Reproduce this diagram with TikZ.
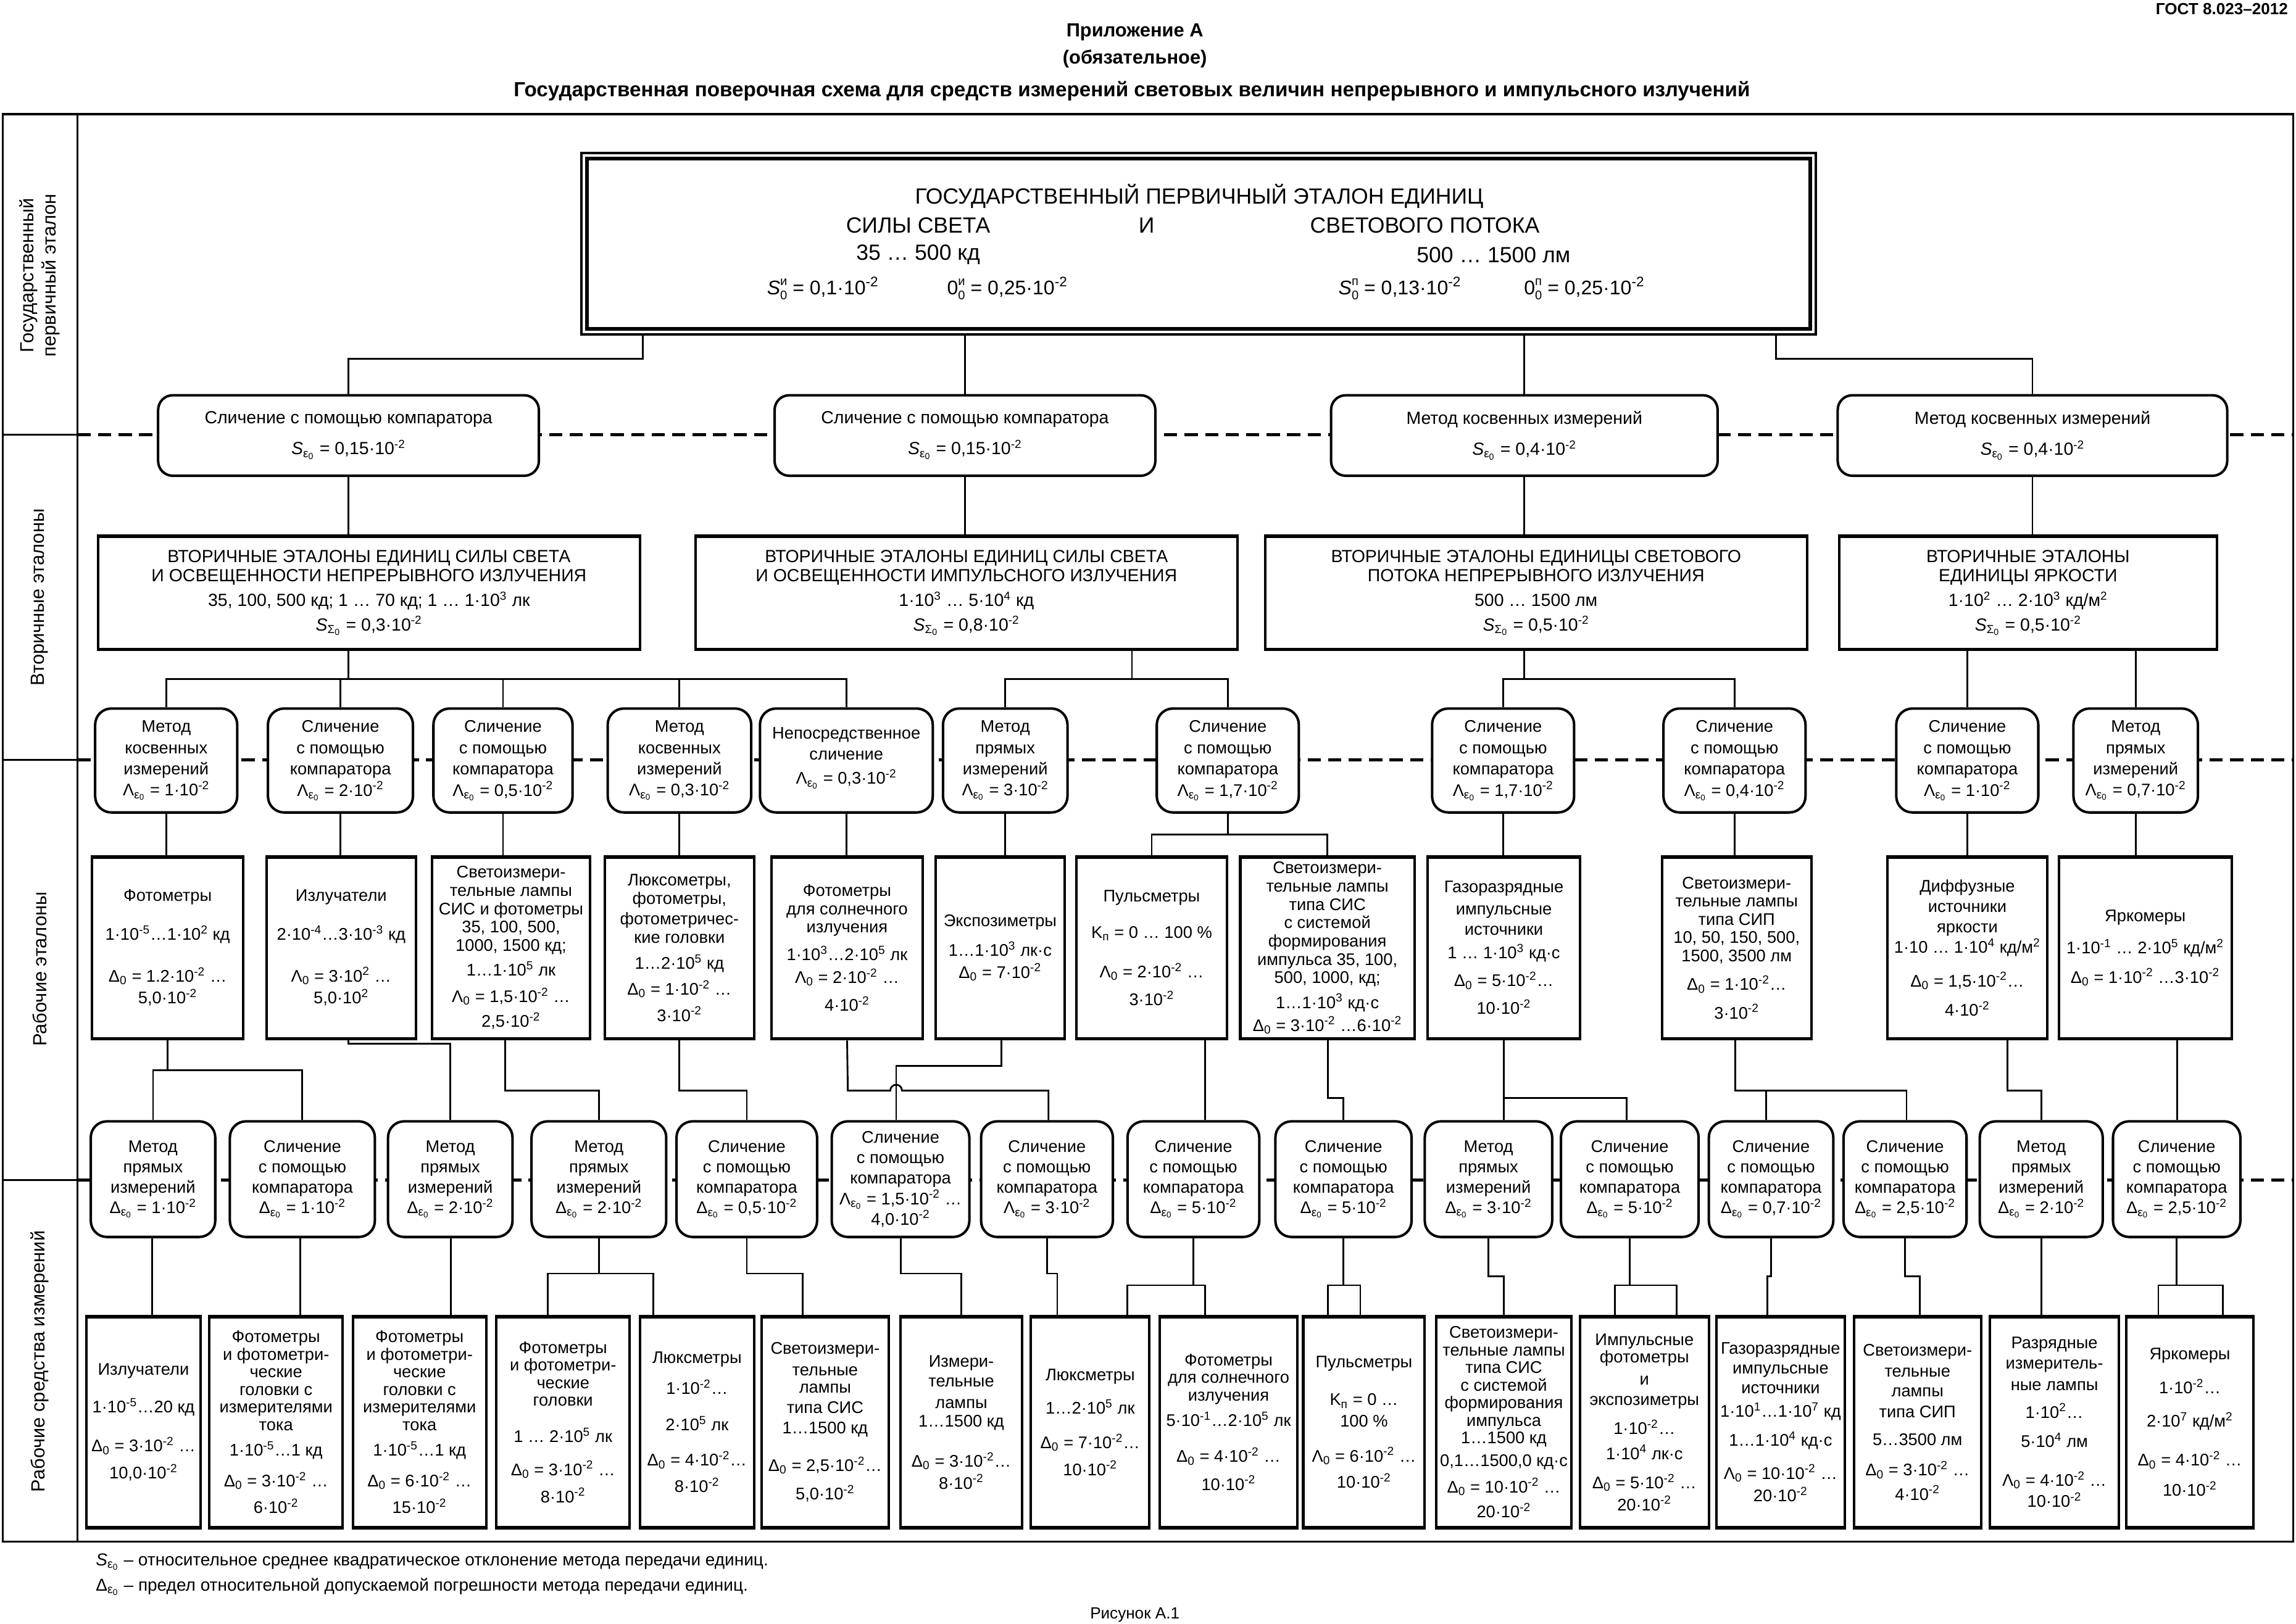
\documentclass[tikz,border=0pt]{standalone}
\usepackage{fontspec}
\setmainfont{Liberation Sans}
\usetikzlibrary{calc}
\newcommand{\fsz}[2]{\fontsize{#1}{#2}\selectfont\lineskiplimit=-1000pt\lineskip=0pt}
\newcommand{\mysup}[1]{\textsuperscript{#1}}
\newcommand{\mysub}[1]{\textsubscript{#1}}
\newcommand{\TE}[1]{10\mysup{#1}}
\newcommand{\mDe}{Δ\mysub{ε\mysub{0}}}
\newcommand{\mLa}{Λ\mysub{ε\mysub{0}}}
\newcommand{\mSe}{\textit{S}\mysub{ε\mysub{0}}}
\newcommand{\mSs}{\textit{S}\mysub{Σ\mysub{0}}}
\newcommand{\mDz}{Δ\mysub{0}}
\newcommand{\mLz}{Λ\mysub{0}}
\newcommand{\supsub}[2]{\rlap{\raisebox{6pt}{\fsz{8.5}{9}#1}}\raisebox{-3.5pt}{\fsz{8.5}{9}#2}}
\newcommand{\bx}[7]{\node[#1, minimum width={#4-#3}, minimum height={#6-#5}] (#2) at ({(#3+#4)/2},{(#5+#6)/2}) {#7};}
\begin{document}
\begin{tikzpicture}[x=1pt,y=-1pt,
 conn/.style={line width=1.2pt},
 dashln/.style={line width=2pt, dash pattern=on 9pt off 5pt},
 frm/.style={line width=1.4pt},
 thickedges/.style={path picture={\draw[line width=3.2pt] (path picture bounding box.south west) -- (path picture bounding box.south east) (path picture bounding box.north west) -- (path picture bounding box.north east);}},
 cbox/.style={draw, fill=white, rounded corners=10pt, line width=1.7pt, align=center, inner sep=0pt, font=\fsz{12}{21}},
 sbox/.style={draw, fill=white, line width=1.7pt, align=center, inner sep=0pt, font=\fsz{12}{13}, thickedges},
 mbox/.style={draw, fill=white, rounded corners=11pt, line width=1.7pt, align=center, inner sep=0pt, font=\fsz{11.5}{14.5}},
 wbox/.style={draw, fill=white, line width=1.7pt, align=center, inner sep=0pt, font=\fsz{11.5}{12.5}, thickedges},
 bbox/.style={draw, fill=white, line width=1.7pt, align=center, inner sep=0pt, font=\fsz{11.5}{12}, thickedges},
 lbox/.style={draw, fill=white, rounded corners=11pt, line width=1.7pt, align=center, inner sep=0pt, font=\fsz{11.5}{14}},
 sidelbl/.style={rotate=90, align=center, font=\fsz{13}{15}},
 hdr/.style={font=\bfseries\fsz{13}{15}},
 ptxt/.style={font=\fsz{15}{17}},
 pform/.style={font=\fsz{13.5}{15}},
 foot/.style={anchor=west, font=\fsz{11.8}{13}},
]
\useasboundingbox (0,0) rectangle (1568,1109);
\fill[white] (0,0) rectangle (1568,1109);
% header
\node[font=\bfseries\fsz{11}{13}, anchor=east] (gost) at (1566,6) {ГОСТ 8.023–2012};
\node[hdr] (app) at (775,22) {Приложение А};
\node[hdr] (oblig) at (775,40) {(обязательное)};
\node[font=\bfseries\fsz{14}{16}] (title) at (773,62) {Государственная поверочная схема для средств измерений световых величин непрерывного и импульсного излучений};
% frame
\draw[frm] (2,78) rectangle (1566,1053);
\draw[frm] (53,78) -- (53,1053);
\draw[frm] (2,297) -- (53,297) (2,519) -- (53,519) (2,806) -- (53,806);
\draw[dashln] (53,297) -- (1566,297);
\draw[dashln] (53,519) -- (1566,519);
\draw[dashln] (53,806) -- (1566,806);
\node[sidelbl] (lab1) at (27,188) {Государственный\\первичный эталон};
\node[sidelbl] (lab2) at (27,408) {Вторичные эталоны};
\node[sidelbl] (lab3) at (27,662) {Рабочие эталоны};
\node[sidelbl] (lab4) at (27,930) {Рабочие средства измерений};
% primary standard
\node[draw, fill=white, line width=1.4pt, minimum width=843, minimum height=124, inner sep=0pt] (P) at (818.5,166.5) {};
\draw[line width=2.6pt] ($(P.north west)+(4.5,4.5)$) rectangle ($(P.south east)+(-4.5,-4.5)$);
\node[ptxt] (t1) at (819,134) {ГОСУДАРСТВЕННЫЙ ПЕРВИЧНЫЙ ЭТАЛОН ЕДИНИЦ};
\node[ptxt] (t2) at (627,154) {СИЛЫ СВЕТА};
\node[ptxt] (t3) at (783,154) {И};
\node[ptxt] (t4) at (973,154) {СВЕТОВОГО ПОТОКА};
\node[ptxt] (t5) at (627,174) {35 … 500 кд};
\node[ptxt] (t6) at (1020,174) {500 … 1500 лм};
\node[pform] (t7) at (562,197) {\textit{S}\supsub{и}{0} = 0,1·\TE{-2}};
\node[pform] (t8) at (688,197) {0\supsub{и}{0} = 0,25·\TE{-2}};
\node[pform] (t9) at (956,197) {\textit{S}\supsub{п}{0} = 0,13·\TE{-2}};
\node[pform] (t10) at (1082,197) {0\supsub{п}{0} = 0,25·\TE{-2}};
% comparison row
\bx{cbox}{C1}{108}{368}{270}{325}{Сличение с помощью компаратора\\\mSe{} = 0,15·\TE{-2}}
\bx{cbox}{C2}{529}{789}{270}{325}{Сличение с помощью компаратора\\\mSe{} = 0,15·\TE{-2}}
\bx{cbox}{C3}{909}{1173}{270}{325}{Метод косвенных измерений\\\mSe{} = 0,4·\TE{-2}}
\bx{cbox}{C4}{1255}{1521}{270}{325}{Метод косвенных измерений\\\mSe{} = 0,4·\TE{-2}}
% secondary standards
\bx{sbox}{S1}{67}{437}{366}{444}{ВТОРИЧНЫЕ ЭТАЛОНЫ ЕДИНИЦ СИЛЫ СВЕТА\\И ОСВЕЩЕННОСТИ НЕПРЕРЫВНОГО ИЗЛУЧЕНИЯ\\[4pt]35, 100, 500 кд; 1 … 70 кд; 1 … 1·\TE{3} лк\\[3.5pt]\mSs{} = 0,3·\TE{-2}}
\bx{sbox}{S2}{475}{845}{366}{444}{ВТОРИЧНЫЕ ЭТАЛОНЫ ЕДИНИЦ СИЛЫ СВЕТА\\И ОСВЕЩЕННОСТИ ИМПУЛЬСНОГО ИЗЛУЧЕНИЯ\\[4pt]1·\TE{3} … 5·\TE{4} кд\\[3.5pt]\mSs{} = 0,8·\TE{-2}}
\bx{sbox}{S3}{864}{1234}{366}{444}{ВТОРИЧНЫЕ ЭТАЛОНЫ ЕДИНИЦЫ СВЕТОВОГО\\ПОТОКА НЕПРЕРЫВНОГО ИЗЛУЧЕНИЯ\\[4pt]500 … 1500 лм\\[3.5pt]\mSs{} = 0,5·\TE{-2}}
\bx{sbox}{S4}{1256}{1514}{366}{444}{ВТОРИЧНЫЕ ЭТАЛОНЫ\\ЕДИНИЦЫ ЯРКОСТИ\\[4pt]1·\TE{2} … 2·\TE{3} кд/м\mysup{2}\\[3.5pt]\mSs{} = 0,5·\TE{-2}}
% method row 1
\bx{mbox}{M1}{65}{162}{484}{555}{Метод\\косвенных\\измерений\\\mLa{} = 1·\TE{-2}}
\bx{mbox}{M2}{183}{282}{484}{555}{Сличение\\с помощью\\компаратора\\\mLa{} = 2·\TE{-2}}
\bx{mbox}{M3}{296}{391}{484}{555}{Сличение\\с помощью\\компаратора\\\mLa{} = 0,5·\TE{-2}}
\bx{mbox}{M4}{415}{513}{484}{555}{Метод\\косвенных\\измерений\\\mLa{} = 0,3·\TE{-2}}
\bx{mbox}{M5}{519}{637}{484}{555}{Непосредственное\\сличение\\[2pt]\mLa{} = 0,3·\TE{-2}\\[-8pt]}
\bx{mbox}{M6}{644}{729}{484}{555}{Метод\\прямых\\измерений\\\mLa{} = 3·\TE{-2}}
\bx{mbox}{M7}{790}{887}{484}{555}{Сличение\\с помощью\\компаратора\\\mLa{} = 1,7·\TE{-2}}
\bx{mbox}{M8}{978}{1075}{484}{555}{Сличение\\с помощью\\компаратора\\\mLa{} = 1,7·\TE{-2}}
\bx{mbox}{M9}{1136}{1233}{484}{555}{Сличение\\с помощью\\компаратора\\\mLa{} = 0,4·\TE{-2}}
\bx{mbox}{M10}{1295}{1392}{484}{555}{Сличение\\с помощью\\компаратора\\\mLa{} = 1·\TE{-2}}
\bx{mbox}{M11}{1416}{1501}{484}{555}{Метод\\прямых\\измерений\\\mLa{} = 0,7·\TE{-2}}
% working standards
\bx{wbox}{W1}{63}{166}{585}{710}{Фотометры\\[14pt]1·\TE{-5}…1·\TE{2} кд\\[16pt]\mDz{} = 1.2·\TE{-2} …\\[2.5pt]5,0·\TE{-2}}
\bx{wbox}{W2}{182}{284}{585}{710}{Излучатели\\[14pt]2·\TE{-4}…3·\TE{-3} кд\\[16pt]\mLz{} = 3·\TE{2} …\\[2.5pt]5,0·\TE{2}}
\bx{wbox}{W3}{295}{403}{585}{710}{Светоизмери-\\тельные лампы\\СИС и фотометры\\35, 100, 500,\\1000, 1500 кд;\\[4.5pt]1…1·\TE{5} лк\\[5.5pt]\mLz{} = 1,5·\TE{-2} …\\[4.5pt]2,5·\TE{-2}}
\bx{wbox}{W4}{413}{515}{585}{710}{Люксометры,\\фотометры,\\[1.5pt]фотометричес-\\кие головки\\[5.5pt]1…2·\TE{5} кд\\[5pt]\mDz{} = 1·\TE{-2} …\\[5.5pt]3·\TE{-2}}
\bx{wbox}{W5}{527}{630}{585}{710}{Фотометры\\для солнечного\\излучения\\[6.5pt]1·\TE{3}…2·\TE{5} лк\\[3pt]\mLz{} = 2·\TE{-2} …\\[6.5pt]4·\TE{-2}}
\bx{wbox}{W6}{639}{727}{585}{710}{Экспозиметры\\[7.5pt]1…1·\TE{3} лк·с\\[2.5pt]\mDz{} = 7·\TE{-2}}
\bx{wbox}{W7}{735}{838}{585}{710}{Пульсметры\\[12.5pt]K\mysub{п} = 0 … 100 \%\\[14.5pt]\mLz{} = 2·\TE{-2} …\\[6.5pt]3·\TE{-2}}
\bx{wbox}{W8}{847}{966}{585}{710}{Светоизмери-\\тельные лампы\\типа СИС\\с системой\\формирования\\импульса 35, 100,\\500, 1000, кд;\\[4.5pt]1…1·\TE{3} кд·с\\[3pt]\mDz{} = 3·\TE{-2} …6·\TE{-2}}
\bx{wbox}{W9}{975}{1079}{585}{710}{Газоразрядные\\[2.5pt]импульсные\\[1.5pt]источники\\[3.5pt]1 … 1·\TE{3} кд·с\\[6.5pt]\mDz{} = 5·\TE{-2}…\\[6.5pt]10·\TE{-2}}
\bx{wbox}{W10}{1135}{1237}{585}{710}{Светоизмери-\\тельные лампы\\типа СИП\\10, 50, 150, 500,\\1500, 3500 лм\\[7pt]\mDz{} = 1·\TE{-2}…\\[7pt]3·\TE{-2}}
\bx{wbox}{W11}{1289}{1398}{585}{710}{Диффузные\\[1.5pt]источники\\[1.5pt]яркости\\[1.5pt]1·10 … 1·\TE{4} кд/м\mysup{2}\\[10.5pt]\mDz{} = 1,5·\TE{-2}…\\[7.5pt]4·\TE{-2}}
\bx{wbox}{W12}{1406}{1524}{585}{710}{Яркомеры\\[9.5pt]1·\TE{-1} … 2·\TE{5} кд/м\mysup{2}\\[7.5pt]\mDz{} = 1·\TE{-2} …3·\TE{-2}}
% method row 2
\bx{lbox}{L1}{62}{147}{766}{845}{Метод\\прямых\\измерений\\\mDe{} = 1·\TE{-2}}
\bx{lbox}{L2}{157}{256}{766}{845}{Сличение\\с помощью\\компаратора\\\mDe{} = 1·\TE{-2}}
\bx{lbox}{L3}{265}{350}{766}{845}{Метод\\прямых\\измерений\\\mDe{} = 2·\TE{-2}}
\bx{lbox}{L4}{363}{455}{766}{845}{Метод\\прямых\\измерений\\\mDe{} = 2·\TE{-2}}
\bx{lbox}{L5}{462}{558}{766}{845}{Сличение\\с помощью\\компаратора\\\mDe{} = 0,5·\TE{-2}}
\bx{lbox}{L6}{568}{662}{766}{845}{Сличение\\с помощью\\компаратора\\\mLa{} = 1,5·\TE{-2} …\\4,0·\TE{-2}}
\bx{lbox}{L7}{670}{760}{766}{845}{Сличение\\с помощью\\компаратора\\\mLa{} = 3·\TE{-2}}
\bx{lbox}{L8}{770}{860}{766}{845}{Сличение\\с помощью\\компаратора\\\mDe{} = 5·\TE{-2}}
\bx{lbox}{L9}{871}{964}{766}{845}{Сличение\\с помощью\\компаратора\\\mDe{} = 5·\TE{-2}}
\bx{lbox}{L10}{973}{1060}{766}{845}{Метод\\прямых\\измерений\\\mDe{} = 3·\TE{-2}}
\bx{lbox}{L11}{1066}{1160}{766}{845}{Сличение\\с помощью\\компаратора\\\mDe{} = 5·\TE{-2}}
\bx{lbox}{L12}{1167}{1252}{766}{845}{Сличение\\с помощью\\компаратора\\\mDe{} = 0,7·\TE{-2}}
\bx{lbox}{L13}{1259}{1343}{766}{845}{Сличение\\с помощью\\компаратора\\\mDe{} = 2,5·\TE{-2}}
\bx{lbox}{L14}{1352}{1436}{766}{845}{Метод\\прямых\\измерений\\\mDe{} = 2·\TE{-2}}
\bx{lbox}{L15}{1443}{1530}{766}{845}{Сличение\\с помощью\\компаратора\\\mDe{} = 2,5·\TE{-2}}
% working measuring instruments
\bx{bbox}{B1}{59}{137}{899}{1044}{Излучатели\\[14pt]1·\TE{-5}…20 кд\\[14.5pt]\mDz{} = 3·\TE{-2} …\\[6.5pt]10,0·\TE{-2}}
\bx{bbox}{B2}{143}{234}{899}{1044}{Фотометры\\и фотометри-\\ческие\\головки с\\измерителями\\тока\\[5.5pt]1·\TE{-5}…1 кд\\[9pt]\mDz{} = 3·\TE{-2} …\\[6pt]6·\TE{-2}}
\bx{bbox}{B3}{241}{332}{899}{1044}{Фотометры\\и фотометри-\\ческие\\головки с\\измерителями\\тока\\[5.5pt]1·\TE{-5}…1 кд\\[9pt]\mDz{} = 6·\TE{-2} …\\[6pt]15·\TE{-2}}
\bx{bbox}{B4}{339}{430}{899}{1044}{Фотометры\\и фотометри-\\ческие\\головки\\[13pt]1 … 2·\TE{5} лк\\[10.5pt]\mDz{} = 3·\TE{-2} …\\[6.5pt]8·\TE{-2}}
\bx{bbox}{B5}{437}{515}{899}{1044}{Люксметры\\[9pt]1·\TE{-2}…\\[13pt]2·\TE{5} лк\\[12pt]\mDz{} = 4·\TE{-2}…\\[6pt]8·\TE{-2}}
\bx{bbox}{B6}{520}{607}{899}{1044}{Светоизмери-\\[2.5pt]тельные\\лампы\\[2pt]типа СИС\\[2pt]1…1500 кд\\[13.5pt]\mDz{} = 2,5·\TE{-2}…\\[7.5pt]5,0·\TE{-2}}
\bx{bbox}{B7}{615}{698}{899}{1044}{Измери-\\[1.5pt]тельные\\[3pt]лампы\\[0.5pt]1…1500 кд\\[15.5pt]\mDz{} = 3·\TE{-2}…\\[3pt]8·\TE{-2}}
\bx{bbox}{B8}{704}{785}{899}{1044}{Люксметры\\[11pt]1…2·\TE{5} лк\\[11.5pt]\mDz{} = 7·\TE{-2}…\\[6.5pt]10·\TE{-2}}
\bx{bbox}{B9}{792}{886}{899}{1044}{Фотометры\\для солнечного\\излучения\\[5.5pt]5·\TE{-1}…2·\TE{5} лк\\[12.5pt]\mDz{} = 4·\TE{-2} …\\[7pt]10·\TE{-2}}
\bx{bbox}{B10}{890}{973}{899}{1044}{Пульсметры\\[14pt]K\mysub{п} = 0 …\\[2.5pt]100 \%\\[12pt]\mLz{} = 6·\TE{-2} …\\[6pt]10·\TE{-2}}
\bx{bbox}{B11}{981}{1073}{899}{1044}{Светоизмери-\\тельные лампы\\типа СИС\\с системой\\формирования\\импульса\\1…1500 кд\\[3.5pt]0,1…1500,0 кд·с\\[6pt]\mDz{} = 10·\TE{-2} …\\[5pt]20·\TE{-2}}
\bx{bbox}{B12}{1079}{1167}{899}{1044}{Импульсные\\фотометры\\[3pt]и\\[2pt]экспозиметры\\[8pt]1·\TE{-2}…\\[5pt]1·\TE{4} лк·с\\[8pt]\mDz{} = 5·\TE{-2} …\\[3pt]20·\TE{-2}}
\bx{bbox}{B13}{1172}{1260}{899}{1044}{Газоразрядные\\[1.5pt]импульсные\\[1.5pt]источники\\[4pt]1·\TE{1}…1·\TE{7} кд\\[8pt]1…1·\TE{4} кд·с\\[10.5pt]\mLz{} = 10·\TE{-2} …\\[3.5pt]20·\TE{-2}}
\bx{bbox}{B14}{1266}{1353}{899}{1044}{Светоизмери-\\[2.5pt]тельные\\[1.5pt]лампы\\[2pt]типа СИП\\[7pt]5…3500 лм\\[9pt]\mDz{} = 3·\TE{-2} …\\[4.5pt]4·\TE{-2}}
\bx{bbox}{B15}{1359}{1447}{899}{1044}{Разрядные\\[2pt]измеритель-\\[2.5pt]ные лампы\\[7pt]1·\TE{2}…\\[8pt]5·\TE{4} лм\\[14.5pt]\mLz{} = 4·\TE{-2} …\\[2.5pt]10·\TE{-2}}
\bx{bbox}{B16}{1452}{1539}{899}{1044}{Яркомеры\\[11pt]1·\TE{-2}…\\[11pt]2·\TE{7} кд/м\mysup{2}\\[14.5pt]\mDz{} = 4·\TE{-2} …\\[8.5pt]10·\TE{-2}}
% connectors: primary -> comparisons
\draw[conn] (P.south -| 439,0) -- (439,245) -| (C1.north);
\draw[conn] (P.south -| C2.north) -- (C2.north);
\draw[conn] (P.south -| C3.north) -- (C3.north);
\draw[conn] (P.south -| 1213,0) -- (1213,245) -| (C4.north);
% comparisons -> secondary
\draw[conn] (C1.south) -- (S1.north -| C1.south);
\draw[conn] (C2.south) -- (S2.north -| C2.south);
\draw[conn] (C3.south) -- (S3.north -| C3.south);
\draw[conn] (C4.south) -- (S4.north -| C4.south);
% secondary -> methods
\draw[conn] (S1.south -| 238,0) -- (238,464);
\draw[conn] (M1.north) -- (M1.north |- 0,464) -- (M5.north |- 0,464) -- (M5.north);
\draw[conn] (M2.north) -- (M2.north |- 0,464);
\draw[conn] (M3.north) -- (M3.north |- 0,464);
\draw[conn] (M4.north) -- (M4.north |- 0,464);
\draw[conn] (S2.south -| 773,0) -- (773,464);
\draw[conn] (M6.north) -- (M6.north |- 0,464) -- (M7.north |- 0,464) -- (M7.north);
\draw[conn] (S3.south -| 1041,0) -- (1041,464);
\draw[conn] (M8.north) -- (M8.north |- 0,464) -- (M9.north |- 0,464) -- (M9.north);
\draw[conn] (S4.south -| M10.north) -- (M10.north);
\draw[conn] (S4.south -| M11.north) -- (M11.north);
% methods -> working standards
\foreach \m/\w in {M1/W1,M2/W2,M3/W3,M4/W4,M5/W5,M6/W6,M8/W9,M9/W10,M10/W11,M11/W12}
  \draw[conn] (\m.south) -- (\w.north -| \m.south);
\draw[conn] (M7.south) -- (M7.south |- 0,570);
\draw[conn] (W7.north) -- (W7.north |- 0,570) -- (W8.north |- 0,570) -- (W8.north);
% working standards -> methods row 2
\draw[conn] (W1.south) -- (W1.south |- 0,731);
\draw[conn] (L1.north) -- (L1.north |- 0,731) -- (L2.north |- 0,731) -- (L2.north);
\draw[conn] (W2.south -| 238,0) -- (238,713) -| (L3.north);
\draw[conn] (W3.south -| 345,0) -- (345,745) -| (L4.north);
\draw[conn] (W4.south) -- (464,745) -| (L5.north);
\draw[conn] (W5.south) -- (579,745) -- (608,745) arc[start angle=180, end angle=360, radius=4] -- (716,745) -- (L7.north -| 716,0);
\draw[conn] (W6.south -| 684,0) -- (684,728) -- (612,728) -- (L6.north -| 612,0);
\draw[conn] (W7.south -| 823,0) -- (L8.north -| 823,0);
\draw[conn] (W8.south -| 907,0) -- (907,750) -| (L9.north);
\draw[conn] (W9.south) -- (1027,750) -- (1111,750) -- (L11.north -| 1111,0);
\draw[conn] (1027,750) -- (L10.north -| 1027,0);
\draw[conn] (W10.south -| 1185,0) -- (1185,745) -- (1302,745) -- (L13.north -| 1302,0);
\draw[conn] (1206,745) -- (L12.north -| 1206,0);
\draw[conn] (W11.south -| 1371,0) -- (1371,745) -| (L14.north);
\draw[conn] (W12.south -| 1487,0) -- (L15.north -| 1487,0);
% methods row 2 -> instruments
\draw[conn] (L1.south -| 104,0) -- (B1.north -| 104,0);
\draw[conn] (L2.south -| 205,0) -- (B2.north -| 205,0);
\draw[conn] (L3.south -| 308,0) -- (B3.north -| 308,0);
\draw[conn] (L4.south) -- (L4.south |- 0,870);
\draw[conn] (B4.north -| 374,0) -- (374,870) -- (446,870) -- (B5.north -| 446,0);
\draw[conn] (L5.south) -- (L5.south |- 0,870) -- (548,870) -- (B6.north -| 548,0);
\draw[conn] (L6.south) -- (L6.south |- 0,870) -| (B7.north);
\draw[conn] (L7.south) -- (L7.south |- 0,870) -- (722,870) -- (B8.north -| 722,0);
\draw[conn] (L8.south) -- (L8.south |- 0,878);
\draw[conn] (B8.north -| 770,0) -- (770,878) -- (823,878) -- (B9.north -| 823,0);
\draw[conn] (L9.south) -- (L9.south |- 0,878);
\draw[conn] (B10.north -| 907,0) -- (907,878) -- (929,878) -- (B10.north -| 929,0);
\draw[conn] (L10.south) -- (L10.south |- 0,872) -- (1027,872) -- (B11.north -| 1027,0);
\draw[conn] (L11.south) -- (L11.south |- 0,878);
\draw[conn] (B12.north -| 1103,0) -- (1103,878) -- (1145,878) -- (B12.north -| 1145,0);
\draw[conn] (L12.south) -- (L12.south |- 0,872) -- (1207,872) -- (B13.north -| 1207,0);
\draw[conn] (L13.south) -- (L13.south |- 0,872) -- (1311,872) -- (B14.north -| 1311,0);
\draw[conn] (L14.south) -- (B15.north -| L14.south);
\draw[conn] (L15.south) -- (L15.south |- 0,878);
\draw[conn] (B16.north -| 1474,0) -- (1474,878) -- (1518,878) -- (B16.north -| 1518,0);
% footer
\node[foot] (f1) at (62,1067) {\mSe{} – относительное среднее квадратическое отклонение метода передачи единиц.};
\node[foot] (f2) at (62,1084) {\mDe{} – предел относительной допускаемой погрешности метода передачи единиц.};
\node[font=\fsz{11}{13}] (fig) at (775,1103) {Рисунок А.1};
\end{tikzpicture}
\end{document}
